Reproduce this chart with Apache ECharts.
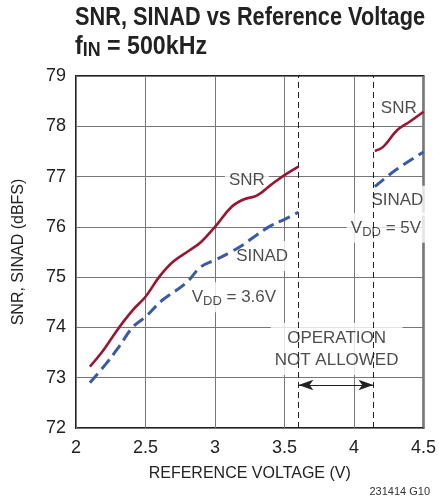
<!DOCTYPE html>
<html>
<head>
<meta charset="utf-8">
<script src="https://cdn.jsdelivr.net/npm/echarts@6/dist/echarts.min.js"></script>
<style>
  html, body { margin: 0; padding: 0; background: #fff; }
  #chart { width: 439px; height: 501px; }
</style>
</head>
<body>
<div id="chart"></div>
<script>
// values: [reference voltage, dBFS]
let snr36 = [[2.1, 73.22], [2.19, 73.52], [2.26, 73.8], [2.34, 74.11], [2.41, 74.35], [2.5, 74.61],
  [2.6, 75.01], [2.7, 75.31], [2.82, 75.54], [2.9, 75.7], [3.0, 76.0], [3.12, 76.4], [3.21, 76.55],
  [3.3, 76.62], [3.4, 76.83], [3.5, 77.03], [3.6, 77.2]];
let sinad36 = [[2.1, 72.9], [2.22, 73.29], [2.31, 73.62], [2.41, 74.01], [2.5, 74.21], [2.62, 74.54],
  [2.79, 74.88], [2.9, 75.21], [3.0, 75.34], [3.1, 75.48], [3.2, 75.64], [3.3, 75.84], [3.4, 76.02],
  [3.5, 76.15], [3.6, 76.29]];
let snr5 = [[4.15, 77.51], [4.21, 77.59], [4.31, 77.92], [4.4, 78.09], [4.5, 78.29]];
let sinad5 = [[4.15, 76.8], [4.3, 77.13], [4.5, 77.49]];

let limitsV = [3.6, 4.14];          // VDD = 3.6V max ref, VDD = 5V min ref
let xTicks = [2, 4.5, 0.5];         // min, max, interval
let yTicks = [72, 79, 1];

let noteText = ['SNR', 'SINAD', '{v|V}{s|DD}{v| = 3.6V}', 'SNR', 'SINAD', '{v|V}{s|DD}{v| = 5V}', 'OPERATION\nNOT ALLOWED'];
let notePos = [[3.229, 76.92], [3.339, 75.42], [3.136, 74.6], [4.322, 78.36], [4.312, 76.52], [4.23, 75.98], [3.875, 73.57]];
let arrowY = 72.855;

const FONT = '"Liberation Sans", Arial, sans-serif';
const INK = '#222';

let chart = echarts.init(document.getElementById('chart'), null, {renderer: 'canvas'});

// the original title is a condensed bold, squeeze a regular bold to the same widths
let ctx = document.createElement('canvas').getContext('2d');
ctx.font = 'bold 26px ' + FONT;
let scale1 = 350 / ctx.measureText('SNR, SINAD vs Reference Voltage').width;
let w2 = ctx.measureText('f = 500kHz').width;
ctx.font = 'bold 20px ' + FONT;
w2 += ctx.measureText('IN').width;
let scale2 = 132 / w2;

function line(data, color, dashed) {
    return {
        type: 'line', data: data, symbol: 'none', smooth: 0.4, z: 6,
        lineStyle: {color: color, width: dashed ? 3 : 2.6, type: dashed ? [12, 6] : 'solid', cap: 'butt'}
    };
}

let noteData = notePos.map((p, i) => ({value: p, label: {formatter: noteText[i]}}));

let option = {
    backgroundColor: '#fff',
    animation: false,
    grid: {left: 76, right: 11, top: 76, bottom: 73, show: true, borderColor: INK, borderWidth: 2, backgroundColor: 'transparent'},
    xAxis: {
        type: 'value', min: xTicks[0], max: xTicks[1], interval: xTicks[2],
        name: 'REFERENCE VOLTAGE (V)', nameLocation: 'middle', nameGap: 38,
        nameTextStyle: {fontFamily: FONT, fontSize: 16, color: INK},
        axisLine: {show: false}, axisTick: {show: false},
        axisLabel: {fontFamily: FONT, fontSize: 18, color: INK, margin: 11},
        splitLine: {show: true, lineStyle: {color: '#777', width: 1}}
    },
    yAxis: {
        type: 'value', min: yTicks[0], max: yTicks[1], interval: yTicks[2],
        name: 'SNR, SINAD (dBFS)', nameLocation: 'middle', nameGap: 49,
        nameTextStyle: {fontFamily: FONT, fontSize: 16, color: INK},
        axisLine: {show: false}, axisTick: {show: false},
        axisLabel: {fontFamily: FONT, fontSize: 18, color: INK, margin: 10},
        splitLine: {show: true, lineStyle: {color: '#777', width: 1}}
    },
    graphic: [{
        type: 'text', left: 75, top: 5, z: 50, scaleX: scale1,
        style: {text: 'SNR, SINAD vs Reference Voltage', font: 'bold 26px ' + FONT, fill: INK}
    }, {
        type: 'text', left: 75, top: 31, z: 50, scaleX: scale2,
        style: {
            text: '{b|f}{s|IN}{b| = 500kHz}',
            rich: {
                b: {fontFamily: FONT, fontWeight: 'bold', fontSize: 26, fill: INK, lineHeight: 26},
                s: {fontFamily: FONT, fontWeight: 'bold', fontSize: 20, fill: INK, lineHeight: 18,
                    padding: [9, 0, 0, 0], verticalAlign: 'bottom'}
            }
        }
    }, {
        type: 'text', right: 9, bottom: 4, z: 50,
        style: {text: '231414 G10', font: '11px ' + FONT, fill: '#333'}
    }],
    series: [
        line(snr36, '#9b1530', false),
        line(sinad36, '#3a5aa8', true),
        line(snr5, '#9b1530', false),
        line(sinad5, '#3a5aa8', true),
        {
            type: 'line', data: [], z: 2,
            markLine: {
                silent: true, symbol: 'none', animation: false,
                label: {show: false},
                lineStyle: {color: INK, width: 1, type: [6, 4]},
                data: limitsV.map(v => ({xAxis: v}))
            }
        },
        {
            type: 'line', data: [], z: 5,
            markLine: {
                silent: true, animation: false,
                symbol: ['arrow', 'arrow'], symbolSize: [8, 15],
                label: {show: false},
                lineStyle: {color: INK, width: 1.2, type: 'solid'},
                data: [[{coord: [limitsV[0], arrowY]}, {coord: [limitsV[1], arrowY]}]]
            }
        },
        {
            // text notes sit on white boxes that break the grid, under the curves
            type: 'scatter', data: noteData, symbolSize: 0, z: 4, silent: true,
            label: {
                show: true, position: 'inside', fontFamily: FONT, fontSize: 17, color: INK,
                backgroundColor: '#fff', padding: [4, 4], lineHeight: 22, align: 'center',
                rich: {
                    v: {fontFamily: FONT, fontSize: 17, color: INK, lineHeight: 22},
                    s: {fontFamily: FONT, fontSize: 13, color: INK, lineHeight: 14,
                        padding: [8, 0, 0, 0], verticalAlign: 'bottom'}
                }
            }
        }
    ]
};

chart.setOption(option);
</script>
</body>
</html>
